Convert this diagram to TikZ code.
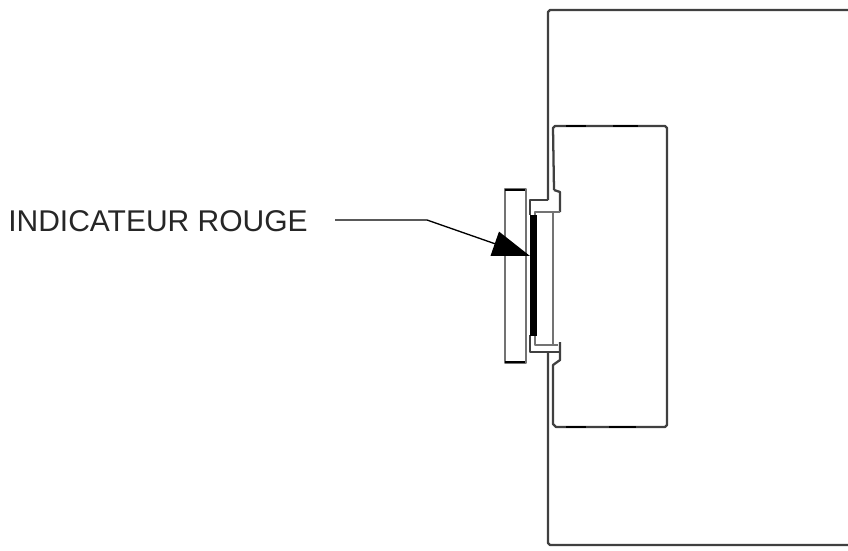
\documentclass[tikz,border=0pt]{standalone}
\usepackage{fontspec}
\setmainfont{Liberation Sans}
\usetikzlibrary{arrows.meta}
\begin{document}
\begin{tikzpicture}[x=0.75pt, y=-0.75pt,
    wall/.style={draw=black!75, line width=1.7pt, line join=round},
    thin wall/.style={draw=black!55, line width=1.5pt, line join=round},
    thick cap/.style={draw=black, line width=2pt}]
    \useasboundingbox (0,0) rectangle (848,550);
    \fill[white] (0,0) rectangle (848,550);

    % Label
    \node[anchor=west, inner sep=0pt, font=\fontsize{22.5pt}{25pt}\selectfont, text=black!85] (label) at (8,221) {INDICATEUR ROUGE};

    % Panel
    \draw[wall] (848,10) -- (550,10) -- (548,12) -- (548,200);
    \draw[wall] (548,352) -- (548,543) -- (550,545) -- (848,545);

    % Box
    \draw[wall] (554,190) -- (553,128) -- (555,126) -- (665,126) -- (667,128) -- (667,425) -- (665,427) -- (556,427) -- (553,424) -- (553,365) -- (560,360) -- (560,342);
    \draw[wall] (554,190) -- (560,192) -- (560,212);
    \draw[thick cap] (566,126) -- (586,126);
    \draw[thick cap] (613,126) -- (638,126);
    \draw[thick cap] (566,427) -- (586,427);
    \draw[thick cap] (609,427) -- (636,427);
    \draw[thin wall] (553,212) -- (553,345);

    % Brackets
    \draw[wall] (548,200) -- (530,200) -- (530,215);
    \draw[thin wall] (560,212) -- (535,212) -- (535,216);
    \draw[wall] (530,335) -- (530,352) -- (560,352);
    \draw[thin wall] (535,335) -- (535,345) -- (558,345);

    % Indicator
    \fill[black] (530,215) rectangle (537,336);

    % Plate
    \draw[thin wall] (505,189) rectangle (526,363);
    \draw[thick cap] (505,190) -- (525,190);
    \draw[thick cap] (505,362) -- (525,362);

    % Leader
    \coordinate (start) at (335,220);
    \coordinate (bend) at (427,220);
    \coordinate (tip) at (530,256);
    \draw[line width=1pt, -{Triangle[length=28pt, width=19pt]}] (start) -- (bend) -- (tip);
\end{tikzpicture}
\end{document}
